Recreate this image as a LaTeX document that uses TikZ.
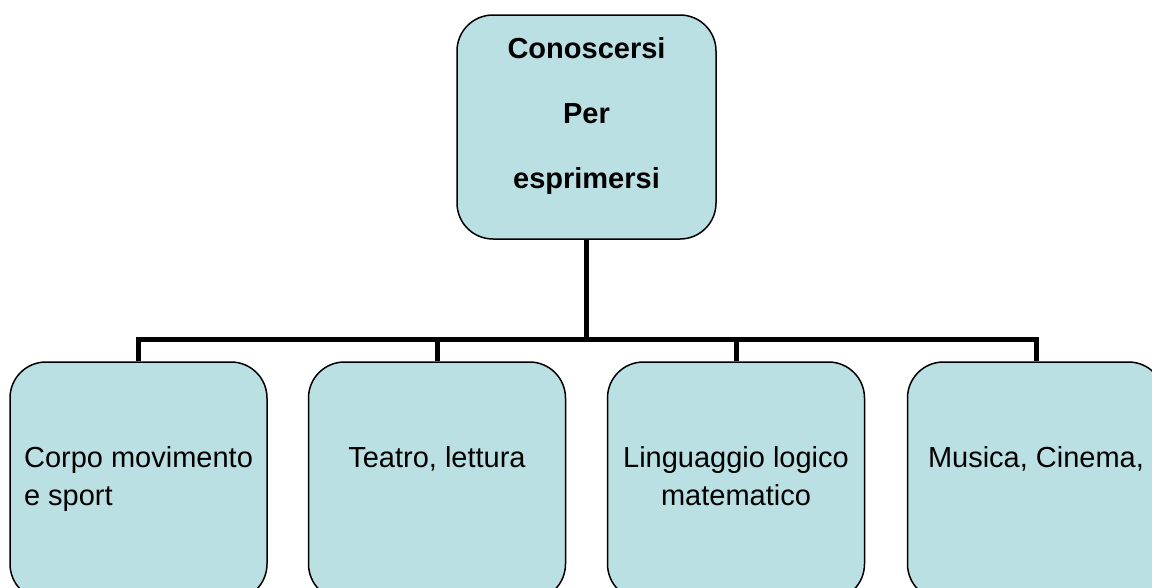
\documentclass[tikz,border=0pt]{standalone}
\usepackage{fontspec}
\setmainfont{Liberation Sans}
\definecolor{boxfill}{RGB}{186,224,227}
\begin{document}
\begin{tikzpicture}[x=1pt,y=-1pt,
  box/.style={draw=black, line width=1.5pt, fill=boxfill, rounded corners=36pt,
    minimum width=257pt, minimum height=238pt, inner sep=0pt},
  topbox/.style={draw=black, line width=1.5pt, fill=boxfill, rounded corners=36pt,
    minimum width=259pt, minimum height=224pt, inner sep=0pt},
  conn/.style={line width=5pt, black},
  lbl/.style={anchor=base, inner sep=0pt, font=\fontsize{29}{38}\selectfont},
  toplbl/.style={anchor=base, inner sep=0pt, align=center, font=\fontsize{29}{65}\selectfont\bfseries}]
\useasboundingbox (0,0) rectangle (1152,587);
\clip (0,0) rectangle (1152,587);
\node[topbox] (top) at (586.5,127) {};
\node[box] (b1) at (138.5,481) {};
\node[box] (b2) at (437,481) {};
\node[box] (b3) at (736,481) {};
\node[box] (b4) at (1036,481) {};
\coordinate (bar) at (586.5,339);
\draw[conn] (top.south) -- (bar);
\draw[conn] (b1.north) |- (bar) -| (b4.north);
\draw[conn] (b2.north) -- (b2.north |- bar);
\draw[conn] (b3.north) -- (b3.north |- bar);
\node[toplbl] (ttop) at (586.5,188) {Conoscersi\\Per\\esprimersi};
\node[lbl, align=left] (t1) at (138.5,505) {Corpo movimento\\e sport};
\node[lbl, align=center] (t2) at (437,467) {Teatro, lettura};
\node[lbl, align=center] (t3) at (736,505) {Linguaggio logico\\matematico};
\node[lbl, align=center] (t4) at (1036,467) {Musica, Cinema,};
\end{tikzpicture}
\end{document}
